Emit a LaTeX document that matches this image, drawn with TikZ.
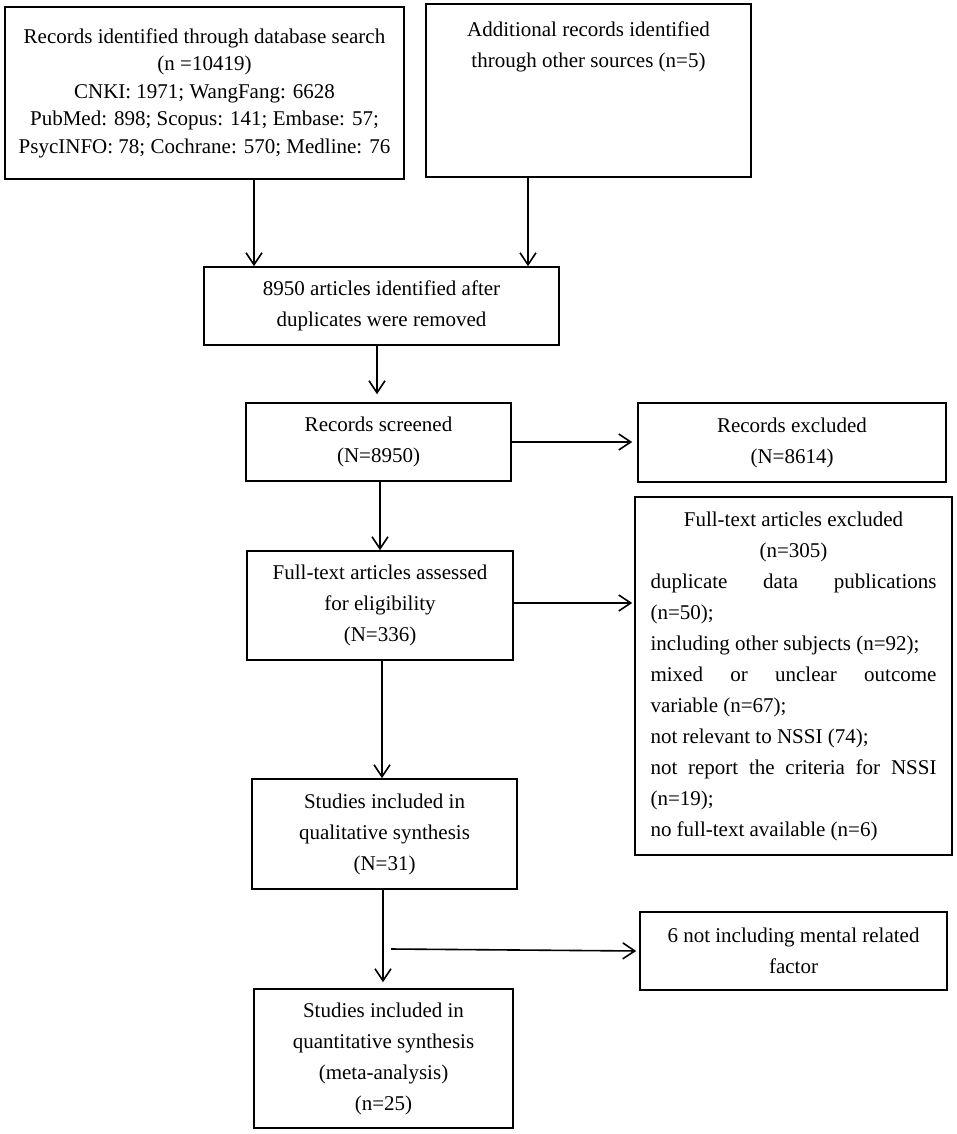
\documentclass[tikz,border=0pt]{standalone}
\usepackage{fontspec}
\setmainfont{Liberation Serif}
\usetikzlibrary{arrows.meta}
\begin{document}
\begin{tikzpicture}[x=1pt,y=-1pt,
  box/.style={draw, line width=1.6pt, inner sep=0pt, align=center,
    font=\fontsize{21}{31}\selectfont},
  txt/.style={inner sep=0pt, align=center, font=\fontsize{21}{31}\selectfont},
  arr/.style={line width=1.6pt,
    -{Straight Barb[length=12pt,width=16pt,line width=1.6pt]}}]
\path[fill=white] (0,0) rectangle (957,1134);
\useasboundingbox (0,0) rectangle (957,1134);

% boxes
\node[box, font=\fontsize{21}{27.5}\selectfont, minimum width=399pt, minimum height=172pt] (b1) at (204.5,93)
  {Records identified through database search\\(n =10419)\\CNKI: 1971; WangFang: 6628\\PubMed: 898; Scopus: 141; Embase: 57;\\PsycINFO: 78; Cochrane: 570; Medline: 76};
\node[box, minimum width=325pt, minimum height=173pt] (b2) at (588.5,90.5) {};
\node[txt] (b2t) at (588.5,47) {Additional records identified\\through other sources (n=5)};
\node[box, minimum width=355pt, minimum height=78pt] (b3) at (381.5,306) {8950 articles identified after\\duplicates were removed};
\node[box, minimum width=265pt, minimum height=78pt] (b4) at (378.5,442) {Records screened\\(N=8950)};
\node[box, minimum width=308pt, minimum height=79pt] (b5) at (792,442.5) {Records excluded\\(N=8614)};
\node[box, minimum width=266pt, minimum height=109pt] (b6) at (380,605.5) {Full-text articles assessed\\for eligibility\\(N=336)};
\node[box, minimum width=317pt, minimum height=358pt, align=left] (b7) at (793.5,676)
  {\makebox[286pt]{Full-text articles excluded}\\
   \makebox[286pt]{(n=305)}\\
   \makebox[286pt][s]{duplicate\hfill data\hfill publications}\\
   \makebox[286pt][l]{(n=50);}\\
   \makebox[286pt][l]{including other subjects (n=92);}\\
   \makebox[286pt][s]{mixed\hfill or\hfill unclear\hfill outcome}\\
   \makebox[286pt][l]{variable (n=67);}\\
   \makebox[286pt][l]{not relevant to NSSI (74);}\\
   \makebox[286pt][s]{not\hfill report\hfill the\hfill criteria\hfill for\hfill NSSI}\\
   \makebox[286pt][l]{(n=19);}\\
   \makebox[286pt][l]{no full-text available (n=6)}};
\node[box, minimum width=265pt, minimum height=110pt] (b8) at (384.5,834) {Studies included in\\qualitative synthesis\\(N=31)};
\node[box, minimum width=307pt, minimum height=78pt] (b9) at (793.5,951) {6 not including mental related\\factor};
\node[box, minimum width=259pt, minimum height=139pt] (b10) at (383.5,1058.5) {Studies included in\\quantitative synthesis\\(meta-analysis)\\(n=25)};

% helper coordinates for connector positions
\coordinate (x1) at (254,0);
\coordinate (x2) at (528,0);
\coordinate (x3) at (377,0);
\coordinate (x5) at (380,0);
\coordinate (y6) at (0,603);
\coordinate (x7) at (382,0);
\coordinate (x8) at (383,0);
\coordinate (a9s) at (391,949);

% connectors
\draw[arr] (x1 |- b1.south) -- (x1 |- b3.north);
\draw[arr] (x2 |- b2.south) -- (x2 |- b3.north);
\draw[arr, shorten >=8pt] (x3 |- b3.south) -- (x3 |- b4.north);
\draw[arr, shorten >=5pt] (b4.east) -- (b4.east -| b5.west);
\draw[arr] (x5 |- b4.south) -- (x5 |- b6.north);
\draw[arr, shorten >=2pt] (y6 -| b6.east) -- (y6 -| b7.west);
\draw[arr] (x7 |- b6.south) -- (x7 |- b8.north);
\draw[arr, shorten >=6pt] (x8 |- b8.south) -- (x8 |- b10.north);
\draw[arr, shorten >=3pt] (a9s) -- (b9.west);
\end{tikzpicture}
\end{document}
